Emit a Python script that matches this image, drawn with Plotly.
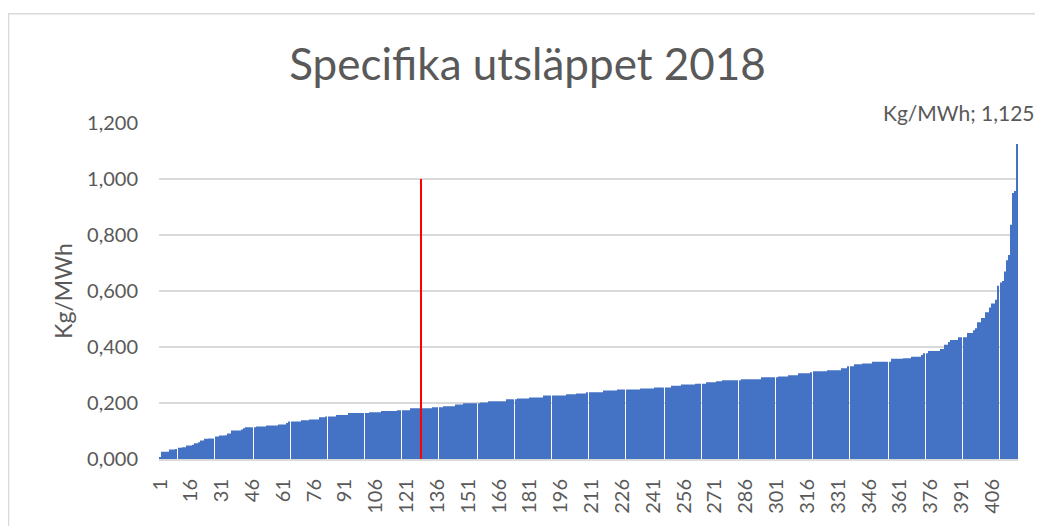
import plotly.graph_objects as go

# Sorted specific emissions (Kg/MWh) per unit
values = [
    0.005, 0.026, 0.026, 0.026, 0.026, 0.034, 0.034, 0.034, 0.036, 0.040,
    0.040, 0.042, 0.042, 0.048, 0.048, 0.048, 0.051, 0.056, 0.056, 0.060,
    0.066, 0.066, 0.072, 0.072, 0.073, 0.073, 0.073, 0.080, 0.080, 0.084,
    0.084, 0.084, 0.085, 0.091, 0.091, 0.102, 0.102, 0.102, 0.102, 0.102,
    0.105, 0.110, 0.113, 0.113, 0.113, 0.113, 0.113, 0.116, 0.116, 0.116,
    0.116, 0.116, 0.120, 0.120, 0.120, 0.120, 0.120, 0.120, 0.123, 0.123,
    0.123, 0.123, 0.129, 0.134, 0.134, 0.134, 0.134, 0.134, 0.134, 0.138,
    0.138, 0.138, 0.138, 0.141, 0.141, 0.141, 0.141, 0.141, 0.149, 0.149,
    0.149, 0.152, 0.152, 0.152, 0.152, 0.152, 0.157, 0.157, 0.157, 0.157,
    0.157, 0.157, 0.164, 0.164, 0.164, 0.164, 0.164, 0.164, 0.164, 0.164,
    0.164, 0.164, 0.167, 0.167, 0.167, 0.167, 0.167, 0.167, 0.171, 0.171,
    0.171, 0.171, 0.171, 0.171, 0.171, 0.171, 0.174, 0.174, 0.174, 0.174,
    0.174, 0.174, 0.181, 0.181, 0.181, 0.181, 0.181, 0.181, 0.181, 0.181,
    0.181, 0.181, 0.181, 0.185, 0.185, 0.185, 0.185, 0.185, 0.188, 0.188,
    0.188, 0.188, 0.188, 0.188, 0.195, 0.195, 0.195, 0.195, 0.199, 0.199,
    0.199, 0.199, 0.199, 0.199, 0.199, 0.199, 0.202, 0.202, 0.202, 0.202,
    0.206, 0.206, 0.206, 0.206, 0.206, 0.206, 0.206, 0.206, 0.206, 0.213,
    0.213, 0.213, 0.213, 0.213, 0.216, 0.216, 0.216, 0.216, 0.216, 0.216,
    0.220, 0.220, 0.220, 0.220, 0.220, 0.220, 0.220, 0.227, 0.227, 0.227,
    0.227, 0.227, 0.227, 0.227, 0.227, 0.227, 0.227, 0.227, 0.231, 0.231,
    0.231, 0.231, 0.231, 0.234, 0.234, 0.234, 0.234, 0.234, 0.238, 0.238,
    0.238, 0.238, 0.238, 0.238, 0.238, 0.238, 0.245, 0.245, 0.245, 0.245,
    0.245, 0.245, 0.245, 0.248, 0.248, 0.248, 0.248, 0.248, 0.248, 0.248,
    0.248, 0.248, 0.248, 0.248, 0.252, 0.252, 0.252, 0.252, 0.252, 0.252,
    0.252, 0.255, 0.255, 0.255, 0.255, 0.255, 0.255, 0.255, 0.255, 0.262,
    0.262, 0.262, 0.262, 0.262, 0.266, 0.266, 0.266, 0.266, 0.266, 0.266,
    0.266, 0.269, 0.269, 0.269, 0.269, 0.269, 0.274, 0.274, 0.274, 0.274,
    0.274, 0.278, 0.278, 0.278, 0.281, 0.281, 0.281, 0.281, 0.281, 0.281,
    0.281, 0.281, 0.281, 0.285, 0.285, 0.285, 0.285, 0.285, 0.285, 0.285,
    0.285, 0.285, 0.285, 0.292, 0.292, 0.292, 0.292, 0.292, 0.292, 0.292,
    0.292, 0.295, 0.295, 0.295, 0.295, 0.295, 0.299, 0.299, 0.299, 0.299,
    0.299, 0.306, 0.306, 0.306, 0.306, 0.306, 0.306, 0.310, 0.313, 0.313,
    0.313, 0.313, 0.313, 0.313, 0.313, 0.317, 0.317, 0.317, 0.317, 0.317,
    0.317, 0.317, 0.324, 0.324, 0.324, 0.331, 0.331, 0.331, 0.338, 0.338,
    0.338, 0.338, 0.341, 0.341, 0.341, 0.341, 0.341, 0.347, 0.347, 0.347,
    0.347, 0.347, 0.347, 0.347, 0.347, 0.347, 0.358, 0.358, 0.358, 0.358,
    0.358, 0.358, 0.360, 0.360, 0.360, 0.360, 0.365, 0.365, 0.365, 0.365,
    0.365, 0.371, 0.378, 0.378, 0.386, 0.386, 0.386, 0.386, 0.386, 0.386,
    0.393, 0.393, 0.408, 0.408, 0.418, 0.425, 0.425, 0.425, 0.425, 0.435,
    0.435, 0.435, 0.435, 0.450, 0.450, 0.450, 0.460, 0.467, 0.488, 0.488,
    0.504, 0.504, 0.524, 0.524, 0.541, 0.555, 0.555, 0.569, 0.619, 0.630,
    0.636, 0.670, 0.710, 0.729, 0.837, 0.950, 0.957, 1.125,
]
categories = list(range(1, len(values) + 1))

# Marker series: a single red bar
marker_category = 128
marker_value = 1.0

tick_step = 15
tick_values = list(range(1, len(values) + 1, tick_step))
y_ticks = [0.0, 0.2, 0.4, 0.6, 0.8, 1.0, 1.2]
y_tick_labels = ["0,000", "0,200", "0,400", "0,600", "0,800", "1,000", "1,200"]

title_text = "Specifika utsläppet 2018"
y_title = "Kg/MWh"
label_text = "Kg/MWh; 1,125"

FONT = "Lato"
GRAY = "#595959"
GRID = "#d9d9d9"

fig = go.Figure()
fig.add_trace(go.Bar(
    x=categories, y=values,
    marker=dict(color="#4472C4", line=dict(width=0)),
    name="Kg/MWh", showlegend=False,
))
fig.add_trace(go.Bar(
    x=[marker_category], y=[marker_value], width=[0.45],
    marker=dict(color="#FF0000", line=dict(width=0)), showlegend=False,
))

fig.add_annotation(
    x=categories[-1], y=values[-1], text=label_text, showarrow=False,
    xanchor="center", yanchor="middle", xshift=-58, yshift=32,
    font=dict(family=FONT, size=21, color=GRAY),
)

# page body has an 8px margin; figure sized to fit the window
W, H = 1035, 518
L, R, T, B = 151, 25, 115, 62
pw, ph = W - L - R, H - T - B
# chart-area border (light gray frame)
fig.add_shape(
    type="rect", xref="paper", yref="paper",
    x0=(0.5 - L) / pw, x1=(W + 10 - L) / pw,
    y0=-(B + 10) / ph, y1=(H - B - 4) / ph,
    line=dict(color=GRID, width=1.5), fillcolor="rgba(0,0,0,0)", layer="below",
)

fig.update_layout(
    width=W, height=H,
    margin=dict(l=L, r=R, t=T, b=B),
    paper_bgcolor="white", plot_bgcolor="white",
    barmode="overlay", bargap=0.5,
    title=dict(text=title_text, x=0.502, xref="container", xanchor="center",
               y=1 - 57 / H, yref="container", yanchor="middle",
               font=dict(family=FONT, size=44, color=GRAY)),
    xaxis=dict(
        range=[0.5, len(values) + 0.5], tickmode="array", tickvals=tick_values,
        ticktext=[str(v) for v in tick_values], tickangle=-90,
        tickfont=dict(family=FONT, size=20, color=GRAY),
        showgrid=False, showline=True, linecolor=GRID, linewidth=2,
        ticks="", ticklabelstandoff=10, zeroline=False,
    ),
    yaxis=dict(
        range=[0, 1.2], tickmode="array", tickvals=y_ticks, ticktext=y_tick_labels,
        tickfont=dict(family=FONT, size=20, color=GRAY),
        showgrid=True, gridcolor=GRID, gridwidth=1.5,
        zeroline=False, showline=False, ticks="", ticklabelstandoff=20,
        title=dict(text=y_title, font=dict(family=FONT, size=23, color=GRAY), standoff=7),
    ),
)

fig.write_html("out.html")
